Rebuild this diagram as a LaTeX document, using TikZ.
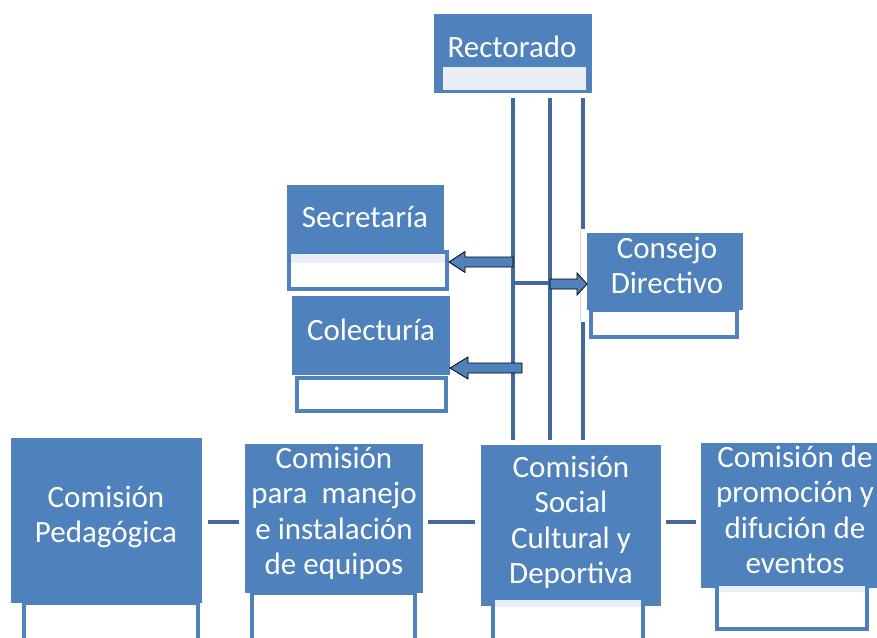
\documentclass[tikz,border=0pt]{standalone}
\usepackage{fontspec}
\setmainfont{Carlito}
\definecolor{accent}{HTML}{4F81BD}
\definecolor{linec}{HTML}{41699E}
\definecolor{lightc}{HTML}{E9EEF7}
\tikzset{
  bluebox/.style={fill=accent, draw=none, anchor=north west, inner sep=0pt, outer sep=0pt},
  whitebox/.style={fill=white, draw=accent, line width=3.5pt, anchor=north west, inner sep=0pt, outer sep=0pt},
  stripbox/.style={fill=lightc, draw=none, anchor=north west, inner sep=0pt, outer sep=0pt},
  lbl/.style={text=white, align=center, inner sep=0pt, font=\fontsize{31}{35.5}\selectfont},
  conn/.style={draw=linec, line width=4.5pt},
  hconn/.style={draw=linec, line width=4.5pt, shorten <=5pt, shorten >=5pt},
  barrow/.style={fill=accent, draw=black, line width=0.8pt, line join=miter},
}
\newcommand\boxnode[6]{\node[#1, minimum width=#4pt, minimum height=#5pt] (#2) at (#3) {};}
\begin{document}
\begin{tikzpicture}[x=1pt,y=-1pt]
\useasboundingbox (0,0) rectangle (877,637);
\clip (0,0) rectangle (877,637);
% Rectorado
\boxnode{bluebox}{rect}{434,14}{158}{79}{}
\boxnode{stripbox}{rectin}{443,67}{143}{23}{}
% Secretaria
\boxnode{bluebox}{sec}{287,185}{157}{67}{}
\boxnode{whitebox}{secw}{289,252}{158}{37}{}
\boxnode{stripbox}{secs}{291,254}{154}{9}{}
% Colecturia
\boxnode{bluebox}{col}{292,296}{158}{79}{}
\boxnode{whitebox, line width=4pt}{colw}{297,378}{149}{33}{}
% Bottom row
\boxnode{bluebox}{ped}{11,438}{191}{165}{}
\boxnode{whitebox, line width=4pt}{pedw}{24,603}{174}{45}{}
\boxnode{bluebox}{man}{245,444}{178}{149}{}
\boxnode{whitebox, line width=4pt}{manw}{252,593}{163}{55}{}
\boxnode{bluebox}{soc}{481,445}{180}{161}{}
\boxnode{whitebox, line width=4pt}{socw}{493,598}{150}{50}{}
\boxnode{stripbox}{socs}{495,600}{146}{7}{}
\boxnode{bluebox}{pro}{701,443}{184}{145}{}
\boxnode{whitebox, line width=4pt}{prow}{717,584}{150}{45}{}
\boxnode{stripbox}{pros}{719,586}{146}{6}{}
% vertical connectors
\draw[conn, shorten <=5pt, shorten >=5pt] (513,0 |- rect.south) -- (513,0 |- soc.north);
\draw[conn, shorten <=5pt, shorten >=5pt] (550,0 |- rect.south) -- (550,0 |- soc.north);
\draw[conn, shorten <=5pt, shorten >=5pt] (583,0 |- rect.south) -- (583,0 |- soc.north);
\draw[conn, line width=3.5pt] (513,283) coordinate (hj1) -- (550,283) coordinate (hj2);
% Consejo Directivo
\fill[white] (580,229) rectangle (590,322);
\draw[gray!30, line width=0.6pt] (580.5,229) -- (580.5,322);
\boxnode{bluebox}{con}{587,233}{156}{77}{}
\boxnode{whitebox, line width=4pt}{conw}{591,310}{146}{27}{}
% horizontal connectors
\draw[hconn, shorten <=6pt, shorten >=6pt] (ped.east |- 0,522) -- (man.west |- 0,522);
\draw[hconn, shorten >=6pt] (man.east |- 0,522) -- (soc.west |- 0,522);
\draw[hconn] (soc.east |- 0,522) -- (pro.west |- 0,522);
% block arrows
\draw[barrow] (513,257) -- (465,257) -- (465,251.5) -- (449,262) -- (465,272.5) -- (465,267) -- (513,267) -- cycle;
\draw[barrow] (522,363) -- (468,363) -- (468,357) -- (450,368) -- (468,379) -- (468,373) -- (522,373) -- cycle;
\draw[barrow] (550,279) -- (577,279) -- (577,273) -- (587,284) -- (577,295) -- (577,289) -- (550,289) -- cycle;
% labels
\node[lbl] (trect) at (512,49.9) {\strut Rectorado};
\node[lbl] (tsec) at (365,219.9) {\strut Secretaría};
\node[lbl] (tcol) at (371,332.9) {\strut Colecturía};
\node[lbl] (tcon) at (667,268.65) {\strut Consejo\\\strut Directivo};
\node[lbl] (tped) at (106,517.65) {\strut Comisión\\\strut Pedagógica};
\node[lbl] (tman) at (334,514.15) {\strut Comisión\\\strut para~~manejo\\\strut e instalación\\\strut de equipos};
\node[lbl] (tsoc) at (571,523.15) {\strut Comisión\\\strut Social\\\strut Cultural y\\\strut Deportiva};
\node[lbl] (tpro) at (795,513.15) {\strut Comisión de\\\strut promoción y\\\strut difución de\\\strut eventos};
\end{tikzpicture}
\end{document}
